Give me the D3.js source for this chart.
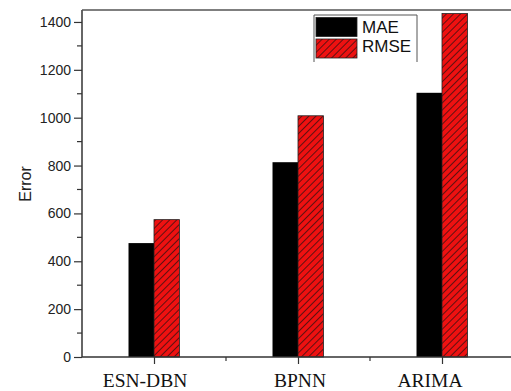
<!DOCTYPE html>
<html>
<head>
<meta charset="utf-8">
<script src="https://cdn.jsdelivr.net/npm/d3@7"></script>
<style>
  body { margin: 0; background: #fff; }
  svg { display: block; }
</style>
</head>
<body>
<div id="vis"></div>
<script>
// ----- DATA ----- //
const categories = ["ESN-DBN", "BPNN", "ARIMA"];
const maeValues = [476, 814, 1104];
const rmseValues = [574, 1008, 1435];
const seriesNames = ["MAE", "RMSE"];
const yTicks = [0, 200, 400, 600, 800, 1000, 1200, 1400];

const width = 511, height = 391;
const plot = { left: 82, top: 10, bottom: 357, right: 514 };

const svg = d3.select("#vis")
  .append("svg")
  .attr("width", width)
  .attr("height", height);

// hatch pattern for RMSE bars
const defs = svg.append("defs");
const pat = defs.append("pattern")
  .attr("id", "hatch")
  .attr("patternUnits", "userSpaceOnUse")
  .attr("width", 5)
  .attr("height", 5)
  .attr("patternTransform", "rotate(45)");
pat.append("rect").attr("width", 5).attr("height", 5).attr("fill", "#ee1111");
pat.append("line")
  .attr("x1", 0).attr("y1", 0).attr("x2", 0).attr("y2", 5)
  .attr("stroke", "#111").attr("stroke-width", 1.3);

// ----- SCALES ----- //
let x = d3.scaleLinear().domain([0.5, 3.5]).range([plot.left, plot.right]);
let y = d3.scaleLinear().domain([0, 1450]).range([plot.bottom, plot.top]);

const barW = x(1.177) - x(1);

// ----- BARS ----- //
let mae = svg.append("g")
  .selectAll("rect")
  .data(maeValues)
  .join("rect")
  .attr("x", (d, i) => x(i + 1) - barW)
  .attr("y", (d) => y(d))
  .attr("width", barW)
  .attr("height", (d) => y(0) - y(d))
  .attr("fill", "#000");

let rmse = svg.append("g")
  .selectAll("rect")
  .data(rmseValues)
  .join("rect")
  .attr("x", (d, i) => x(i + 1))
  .attr("y", (d) => y(d))
  .attr("width", barW)
  .attr("height", (d) => y(0) - y(d))
  .attr("fill", "url(#hatch)")
  .attr("stroke", "#222")
  .attr("stroke-width", 0.8);

// ----- AXES ----- //
let yAxis = d3.axisLeft(y)
  .tickValues(yTicks)
  .tickSize(8)
  .tickPadding(3)
  .tickFormat(d3.format("d"));
let yAxisGroup = svg.append("g")
  .attr("transform", `translate(${plot.left},0)`)
  .call(yAxis);
yAxisGroup.select(".domain").remove();
yAxisGroup.selectAll("text")
  .attr("font-family", "Arial, 'Liberation Sans', sans-serif")
  .attr("font-size", 14)
  .attr("fill", "#222");
yAxisGroup.selectAll("line").attr("stroke", "#333").attr("stroke-width", 1.2);

// minor y ticks
svg.append("g")
  .selectAll("line")
  .data(d3.range(100, 1450, 200))
  .join("line")
  .attr("x1", plot.left - 5)
  .attr("x2", plot.left)
  .attr("y1", (d) => y(d))
  .attr("y2", (d) => y(d))
  .attr("stroke", "#333")
  .attr("stroke-width", 1.2);

let xAxis = d3.axisBottom(x)
  .tickValues([1, 2, 3])
  .tickSize(7)
  .tickFormat("");
let xAxisGroup = svg.append("g")
  .attr("transform", `translate(0,${plot.bottom})`)
  .call(xAxis);
xAxisGroup.select(".domain").remove();
xAxisGroup.selectAll("line").attr("stroke", "#333").attr("stroke-width", 1.2);

// minor x ticks
svg.append("g")
  .selectAll("line")
  .data([1.5, 2.5])
  .join("line")
  .attr("x1", (d) => x(d))
  .attr("x2", (d) => x(d))
  .attr("y1", plot.bottom)
  .attr("y2", plot.bottom + 4)
  .attr("stroke", "#333")
  .attr("stroke-width", 1.2);

// category labels (slightly off-centre like the original)
const labelShift = [-9, 2, -12];
svg.append("g")
  .selectAll("text")
  .data(categories)
  .join("text")
  .attr("x", (d, i) => x(i + 1) + labelShift[i])
  .attr("y", 387)
  .attr("text-anchor", "middle")
  .attr("font-family", "'Liberation Serif', 'Times New Roman', serif")
  .attr("font-size", 19.5)
  .attr("fill", "#111")
  .text((d) => d);

// frame lines: left, bottom, top
svg.append("line")
  .attr("x1", plot.left).attr("x2", plot.left)
  .attr("y1", plot.top).attr("y2", plot.bottom)
  .attr("stroke", "#333").attr("stroke-width", 1.5);
svg.append("line")
  .attr("x1", plot.left).attr("x2", width)
  .attr("y1", plot.bottom).attr("y2", plot.bottom)
  .attr("stroke", "#333").attr("stroke-width", 1.5);
svg.append("line")
  .attr("x1", plot.left).attr("x2", width)
  .attr("y1", plot.top).attr("y2", plot.top)
  .attr("stroke", "#555").attr("stroke-width", 1.5);

// y axis label
svg.append("text")
  .attr("transform", "translate(31,184) rotate(-90)")
  .attr("text-anchor", "middle")
  .attr("font-family", "Arial, 'Liberation Sans', sans-serif")
  .attr("font-size", 16)
  .attr("fill", "#222")
  .text("Error");

// ----- LEGEND ----- //
let legend = svg.append("g");
legend.append("path")
  .attr("d", "M314,62 V15 H417 V62")
  .attr("fill", "none")
  .attr("stroke", "#555")
  .attr("stroke-width", 1);

legend.selectAll("rect")
  .data(seriesNames)
  .join("rect")
  .attr("x", 316)
  .attr("y", (d, i) => 17.5 + i * 21.5)
  .attr("width", 41)
  .attr("height", 19)
  .attr("fill", (d, i) => (i === 0 ? "#000" : "url(#hatch)"))
  .attr("stroke", "#222")
  .attr("stroke-width", 0.8);

legend.selectAll("text")
  .data(seriesNames)
  .join("text")
  .attr("x", 362)
  .attr("y", (d, i) => 32.5 + i * 19.5)
  .attr("font-family", "Arial, 'Liberation Sans', sans-serif")
  .attr("font-size", 17)
  .attr("fill", "#111")
  .text((d) => d);
</script>
</body>
</html>
